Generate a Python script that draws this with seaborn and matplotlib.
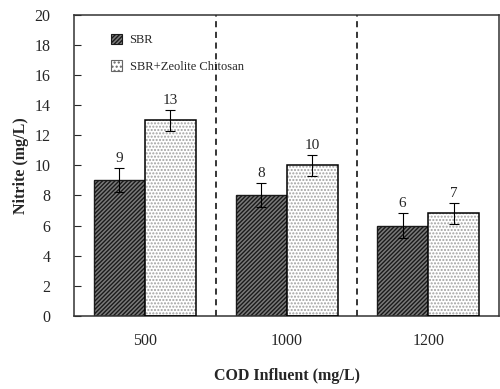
import matplotlib
matplotlib.use("Agg")
import matplotlib.pyplot as plt
import seaborn as sns
import pandas as pd
from matplotlib.patches import Rectangle

categories = ["500", "1000", "1200"]
series = ["SBR", "SBR+Zeolite Chitosan"]
sbr_values = [9, 8, 6]
zeo_values = [13, 10, 6.8]
sbr_err = [0.8, 0.8, 0.8]
zeo_err = [0.7, 0.7, 0.7]
sbr_labels = ["9", "8", "6"]
zeo_labels = ["13", "10", "7"]
yticks = [0, 2, 4, 6, 8, 10, 12, 14, 16, 18, 20]

sns.set_style("ticks")
plt.rcParams['font.family'] = ['Liberation Serif', 'DejaVu Serif']
plt.rcParams['hatch.linewidth'] = 1.0

df = pd.DataFrame({
    "cod": categories * 2,
    "value": sbr_values + zeo_values,
    "series": [series[0]] * 3 + [series[1]] * 3,
})

fig = plt.figure(figsize=(5, 3.89), dpi=100)
ax = fig.add_axes([0.148, 0.188, 0.850, 0.774])

sns.barplot(data=df, x="cod", y="value", hue="series", order=categories,
            hue_order=series, width=0.72, errorbar=None, ax=ax, legend=False)

patches = ax.patches[:6]
errs = sbr_err + zeo_err
labels = sbr_labels + zeo_labels
vals = sbr_values + zeo_values
for i, p in enumerate(patches):
    if i < 3:
        p.set_facecolor("#7a7a7a")
        p.set_edgecolor("#1a1a1a")
        p.set_hatch("////////")
        p.set_linewidth(1.0)
    else:
        p.set_facecolor("white")
        p.set_edgecolor("#a0a0a0")
        p.set_hatch(".....")
        p.set_linewidth(0)
        ax.add_patch(Rectangle((p.get_x(), p.get_y()), p.get_width(), p.get_height(),
                               fill=False, edgecolor="black", linewidth=1.1, zorder=3))
    cx = p.get_x() + p.get_width() / 2
    ax.errorbar(cx, vals[i], yerr=errs[i], color="black", capsize=3.5,
                elinewidth=0.8, capthick=0.8, zorder=4)
    ax.text(cx, vals[i] + errs[i] + 0.2, labels[i], ha="center", va="bottom",
            fontsize=11)

for xv in [0.5, 1.5]:
    ax.axvline(xv, color="black", linestyle=(0, (4, 3)), linewidth=1.1)

ax.set_ylim(0, 20)
ax.set_xlim(-0.5, 2.5)
ax.set_yticks(yticks)
ax.tick_params(axis="y", direction="in", length=5, labelsize=11.5, pad=17)
ax.tick_params(axis="x", length=0, labelsize=11.5, pad=12)
for s in ax.spines.values():
    s.set_visible(True)
    s.set_linewidth(1.1)
    s.set_color("#333333")

ax.set_ylabel("Nitrite (mg/L)", fontsize=11.5, fontweight="bold", labelpad=4)
ax.set_xlabel("COD Influent (mg/L)", fontsize=11.5, fontweight="bold", labelpad=14)

# legend handles
h1 = Rectangle((0, 0), 1, 1, facecolor="#7a7a7a", edgecolor="#1a1a1a", hatch="////////", linewidth=0.8)
h2 = Rectangle((0, 0), 1, 1, facecolor="white", edgecolor="#666666", hatch="....", linewidth=0.8)
ax.legend([h1, h2], series, loc="upper left", bbox_to_anchor=(0.06, 0.975),
          frameon=False, fontsize=9, handlelength=0.9, handleheight=0.9,
          labelspacing=1.15, handletextpad=0.6)

fig.savefig("out.png", dpi=100)
